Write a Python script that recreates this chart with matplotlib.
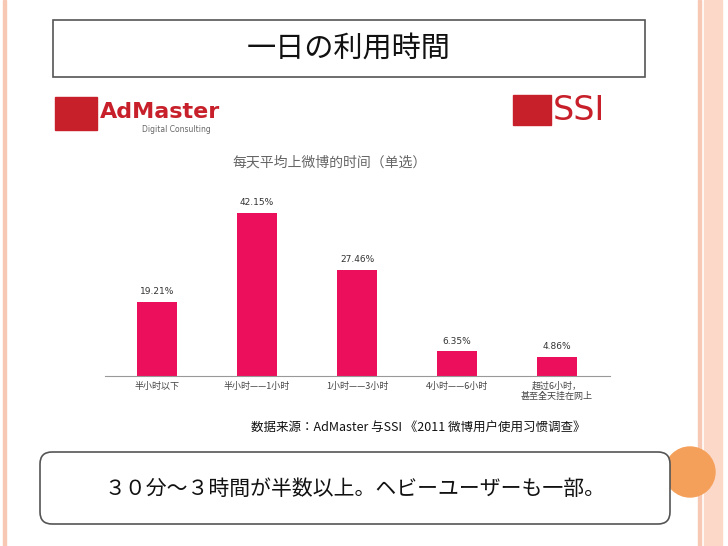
import matplotlib
matplotlib.use("Agg")
import matplotlib.pyplot as plt
from matplotlib.patches import Rectangle, FancyBboxPatch, Circle

categories = ["半小时以下", "半小时——1小时", "1小时——3小时", "4小时——6小时", "超过6小时，\n甚至全天挂在网上"]
values = [19.21, 42.15, 27.46, 6.35, 4.86]
labels = ["19.21%", "42.15%", "27.46%", "6.35%", "4.86%"]

CJK = "Noto Sans CJK JP"
W, H = 728, 546
fig = plt.figure(figsize=(W/100, H/100), dpi=100)
bg = fig.add_axes([0, 0, 1, 1])
bg.set_xlim(0, W); bg.set_ylim(H, 0); bg.axis("off")

# slide decorations
bg.add_patch(Rectangle((3, 0), 3, H, color="#f7c9b5"))
bg.add_patch(Rectangle((698, 0), 3, H, color="#f7c9b5"))
bg.add_patch(Rectangle((704, 0), 18, H, color="#fbd8c8"))
bg.add_patch(Rectangle((53, 20), 592, 57, fill=False, ec="#555555", lw=1.2))
bg.text(349, 49, "一日の利用時間", fontfamily=CJK, fontsize=21, ha="center", va="center", color="#111111")
bg.add_patch(Circle((690, 472), 25, color="#f5a05a", zorder=1))
bg.add_patch(FancyBboxPatch((40, 452), 630, 72, boxstyle="round,pad=0,rounding_size=12",
                            fc="white", ec="#555555", lw=1.2, zorder=2))
bg.text(355, 489, "３０分～３時間が半数以上。ヘビーユーザーも一部。", fontfamily=CJK, fontsize=15,
        ha="center", va="center", color="#111111", zorder=3)

# logos (as text)
bg.add_patch(Rectangle((55, 97), 42, 33, color="#c8202a"))
bg.text(100, 118, "AdMaster", fontsize=16, color="#c8202a", fontweight="bold", va="baseline")
bg.text(142, 129, "Digital Consulting", fontsize=5.5, color="#666666", va="center")
bg.add_patch(Rectangle((513, 95), 38, 30, color="#c8202a"))
bg.text(553, 111, "SSI", fontsize=24, color="#c8202a", va="center")

# chart
ax = fig.add_axes([105/W, 1-376/H, 505/W, 193.5/H])
x = range(len(values))
ax.bar(x, values, width=0.4, color="#ec0f5c")
for i, (v, l) in enumerate(zip(values, labels)):
    ax.text(i, v + 1.5, l, ha="center", va="bottom", fontsize=6.5, color="#333333")
ax.set_xlim(-0.52, 4.53)
ax.set_ylim(0, 50)
ax.set_yticks([])
ax.set_xticks(list(x))
ax.set_xticklabels(categories, fontfamily=CJK, fontsize=6.5, color="#444444")
ax.tick_params(axis="x", length=0, pad=4)
for s in ["top", "right", "left"]:
    ax.spines[s].set_visible(False)
ax.spines["bottom"].set_color("#999999")

bg.text(330, 163, "每天平均上微博的时间（单选）", fontfamily=CJK, fontsize=10, ha="center", va="center", color="#666666")
bg.text(418, 428, "数据来源：AdMaster 与SSI 《2011 微博用户使用习惯调查》", fontfamily=CJK, fontsize=9,
        ha="center", va="center", color="#111111", style="italic")

fig.savefig("out.png", dpi=100)
